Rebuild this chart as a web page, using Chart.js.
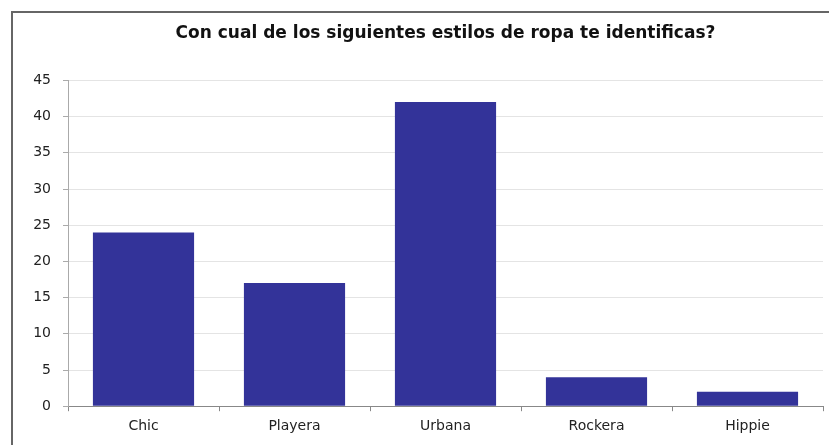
<!DOCTYPE html>
<html>
<head>
<meta charset="utf-8">
<script src="https://cdn.jsdelivr.net/npm/chart.js@4"></script>
<style>
  html, body { margin: 0; padding: 0; background: #fff; }
  #wrap { position: relative; width: 829px; height: 445px; overflow: hidden; }
  #frame { position: absolute; left: 11px; top: 11px; width: 830px; height: 450px;
           border-left: 2px solid #666; border-top: 2px solid #666; }
  canvas { position: absolute; left: 0; top: 0; }
</style>
</head>
<body>
<div id="wrap">
  <div id="frame"></div>
  <canvas id="myChart" width="829" height="445"></canvas>
</div>
<script>
// data
const categories = ['Chic', 'Playera', 'Urbana', 'Rockera', 'Hippie']
const answers = [24, 17, 42, 4, 2]
const yTicks = [0, 5, 10, 15, 20, 25, 30, 35, 40, 45]

const ctx = document.getElementById('myChart')

const styleChart = new Chart(ctx, {
  type: 'bar',
  data: {
    labels: categories,
    datasets: [{
      label: 'Respuestas',
      data: answers,
      backgroundColor: '#333399',
      borderWidth: 0,
      barPercentage: 0.67,
      categoryPercentage: 1
    }]
  },
  options: {
    responsive: false,
    animation: false,
    layout: {
      padding: { left: 0, right: 6, top: 0, bottom: 3 }
    },
    plugins: {
      legend: { display: false },
      tooltip: { enabled: false },
      title: {
        display: true,
        fullSize: false,
        text: 'Con cual de los siguientes estilos de ropa te identificas?',
        color: '#111',
        font: { family: 'DejaVu Sans', size: 17, weight: 'bold' },
        padding: { top: 23, bottom: 37 }
      }
    },
    scales: {
      x: {
        border: { color: '#888', width: 1 },
        grid: { drawOnChartArea: false, drawTicks: true, tickLength: 5, color: '#888' },
        ticks: {
          color: '#222',
          padding: 7,
          font: { family: 'DejaVu Sans', size: 14 }
        }
      },
      y: {
        min: 0,
        max: 45,
        afterBuildTicks: (scale) => {
          scale.ticks = yTicks.map(v => ({ value: v }))
        },
        afterFit: (scale) => {
          scale.width = 68
        },
        border: { color: '#aaa', width: 1 },
        grid: { color: '#e4e4e4', tickColor: '#aaa', tickLength: 5 },
        ticks: {
          color: '#222',
          padding: 12,
          font: { family: 'DejaVu Sans', size: 14 }
        }
      }
    }
  }
})
</script>
</body>
</html>
